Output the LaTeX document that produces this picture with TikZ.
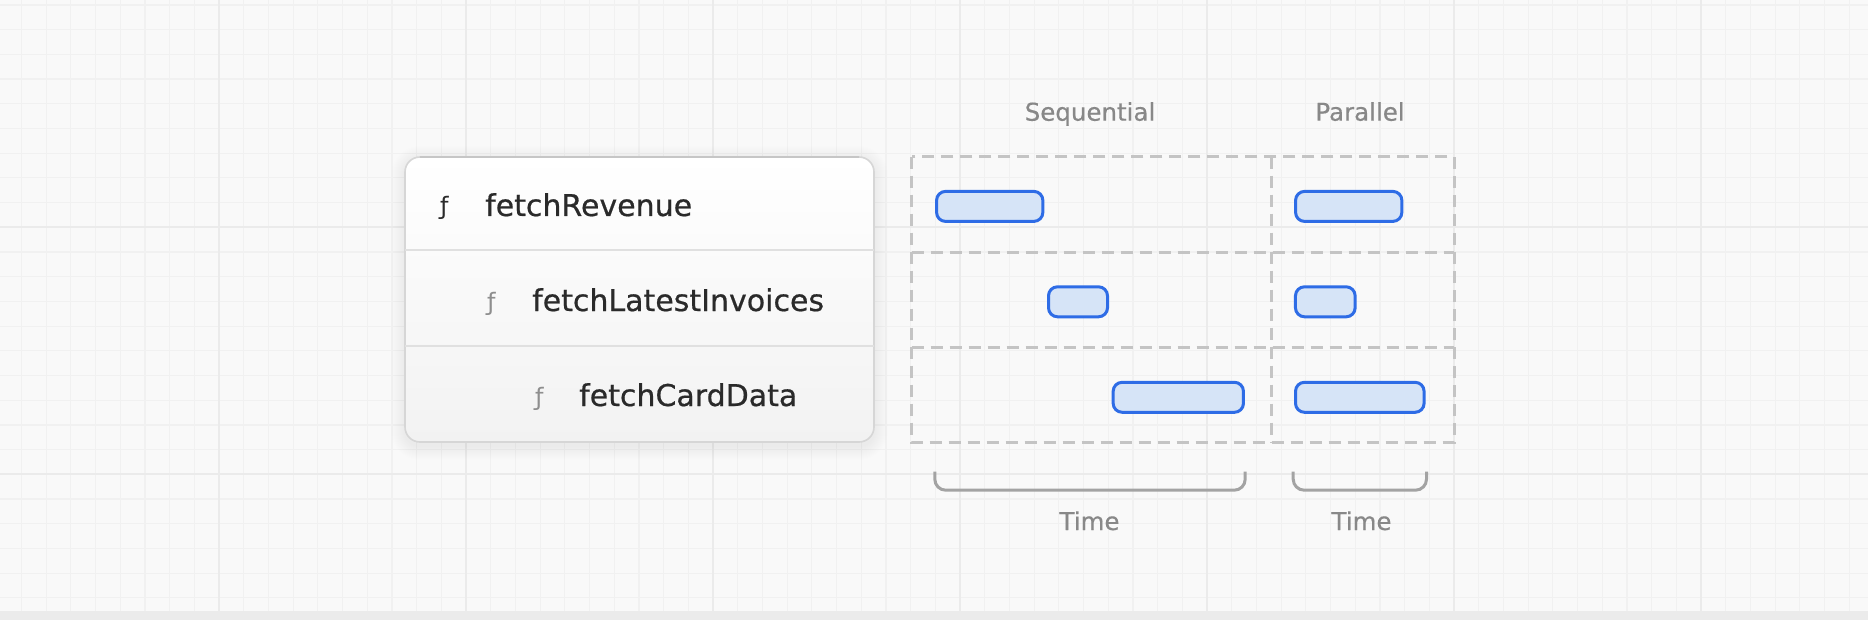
\documentclass[tikz,border=0pt]{standalone}
\usepackage{fontspec}
\setmainfont{DejaVu Sans}
\newfontfamily\medfont[FakeBold=0.6]{DejaVu Sans}
\newfontfamily\lblfont[FakeBold=0.4]{DejaVu Sans}
\usetikzlibrary{positioning}
\definecolor{bgc}{HTML}{F9F9F9}
\definecolor{gridminor}{HTML}{F1F1F1}
\definecolor{gridmajor}{HTML}{EBEBEB}
\definecolor{bottomband}{HTML}{EBEBEB}
\definecolor{cardborder}{HTML}{D6D6D6}
\definecolor{cardtop}{HTML}{C6C6C6}
\definecolor{cardbottom}{HTML}{F2F2F2}
\definecolor{carddiv}{HTML}{E0E0E0}
\definecolor{txtdark}{HTML}{2A2A2A}
\definecolor{fngrey}{HTML}{8E8E8E}
\definecolor{lblgrey}{HTML}{888888}
\definecolor{dashgrey}{HTML}{C4C4C4}
\definecolor{brgrey}{HTML}{A3A3A3}
\definecolor{barblue}{HTML}{2E6CE6}
\definecolor{barfill}{HTML}{D6E4F7}
\tikzset{
  fnname/.style={inner sep=0pt, anchor=base west, text=txtdark, font=\medfont\fontsize{30}{36}\selectfont},
  fnsym/.style={inner sep=0pt, anchor=base west, font=\fontsize{24}{30}\selectfont},
  head/.style={inner sep=0pt, anchor=base, text=lblgrey, font=\lblfont\fontsize{24.5}{30}\selectfont},
  bar/.style={draw=barblue, fill=barfill, line width=3pt, rounded corners=9pt, minimum height=30pt, inner sep=0pt},
  dashline/.style={draw=dashgrey, line width=3pt, dash pattern=on 12pt off 7pt},
  bracketline/.style={draw=brgrey, line width=3pt, rounded corners=11pt},
}
\begin{document}
\begin{tikzpicture}[x=1pt,y=-1pt]
\useasboundingbox (0,0) rectangle (1868,620);
% background
\fill[bgc] (0,0) rectangle (1868,620);
\foreach \i in {0,...,75} {\pgfmathsetmacro\xx{21.4+24.7*\i}\draw[gridminor, line width=1.2pt] (\xx,0) -- (\xx,611);}
\foreach \j in {0,...,24} {\pgfmathsetmacro\yy{5+24.7*\j}\draw[gridminor, line width=1.2pt] (0,\yy) -- (1868,\yy);}
\foreach \i in {0,...,7} {\pgfmathsetmacro\xx{219+247*\i}\draw[gridmajor, line width=1.4pt] (\xx,0) -- (\xx,611);}
\foreach \yy in {227,474} {\draw[gridmajor, line width=1.4pt] (0,\yy) -- (1868,\yy);}
\fill[bottomband] (0,611) rectangle (1868,620);
% card shadow
\foreach \k in {1,...,14} {
  \pgfmathsetmacro\rr{15+\k}
  \fill[black, opacity=0.0035, rounded corners=\rr pt] (405-\k,160-\k) rectangle (874+\k,446+\k);
}
% card
\path[rounded corners=15pt, top color=white, bottom color=cardbottom, draw=cardborder, line width=1.6pt]
  (405,157) rectangle (874,442);
\draw[cardtop, line width=1.6pt] (420,157) -- (859,157);
\node[inner sep=0pt, minimum width=469pt, minimum height=285pt] (card) at (639.5,299.5) {};
\coordinate (d1l) at (405,250); \coordinate (d1r) at (874,250);
\coordinate (d2l) at (405,346); \coordinate (d2r) at (874,346);
\draw[carddiv, line width=1.6pt] (d1l) -- (d1r);
\draw[carddiv, line width=1.6pt] (d2l) -- (d2r);
% card rows
\node[fnsym, text=txtdark] (f1) at (440,215) {ƒ};
\node[fnname] (n1) at (485,216) {fetchRevenue};
\node[fnsym, text=fngrey] (f2) at (487,310) {ƒ};
\node[fnname] (n2) at (532,311) {fetchLatestInvoices};
\node[fnsym, text=fngrey] (f3) at (535,405) {ƒ};
\node[fnname] (n3) at (579,406) {fetchCardData};
% headings
\node[head] (hseq) at (1090,120.7) {Sequential};
\node[head] (hpar) at (1360,120.7) {Parallel};
% dashed grid
\draw[dashline] (911.7,156.7) rectangle (1454,442.7);
\draw[dashline] (1271,156.7) -- (1271,442.7);
\draw[dashline] (911.7,252.3) -- (1454,252.3);
\draw[dashline] (911.7,347.7) -- (1454,347.7);
% bars
\node[bar, minimum width=106.3pt] (s1) at (989.7,206.4) {};
\node[bar, minimum width=106.3pt] (p1) at (1348.7,206.4) {};
\node[bar, minimum width=59pt] (s2) at (1078,301.8) {};
\node[bar, minimum width=59.7pt] (p2) at (1325.3,301.8) {};
\node[bar, minimum width=130.3pt] (s3) at (1178.3,397.3) {};
\node[bar, minimum width=128.6pt] (p3) at (1359.8,397.3) {};
% brackets
\coordinate (bs1) at (934.8,471.7); \coordinate (bs2) at (934.8,490.2);
\coordinate (bs3) at (1245.2,490.2); \coordinate (bs4) at (1245.2,471.7);
\draw[bracketline] (bs1) -- (bs2) -- (bs3) -- (bs4);
\coordinate (bp1) at (1293.2,471.7); \coordinate (bp2) at (1293.2,490.2);
\coordinate (bp3) at (1426.5,490.2); \coordinate (bp4) at (1426.5,471.7);
\draw[bracketline] (bp1) -- (bp2) -- (bp3) -- (bp4);
\node[head] (tseq) at (1089.5,530) {Time};
\node[head] (tpar) at (1361.5,530) {Time};
\end{tikzpicture}
\end{document}
